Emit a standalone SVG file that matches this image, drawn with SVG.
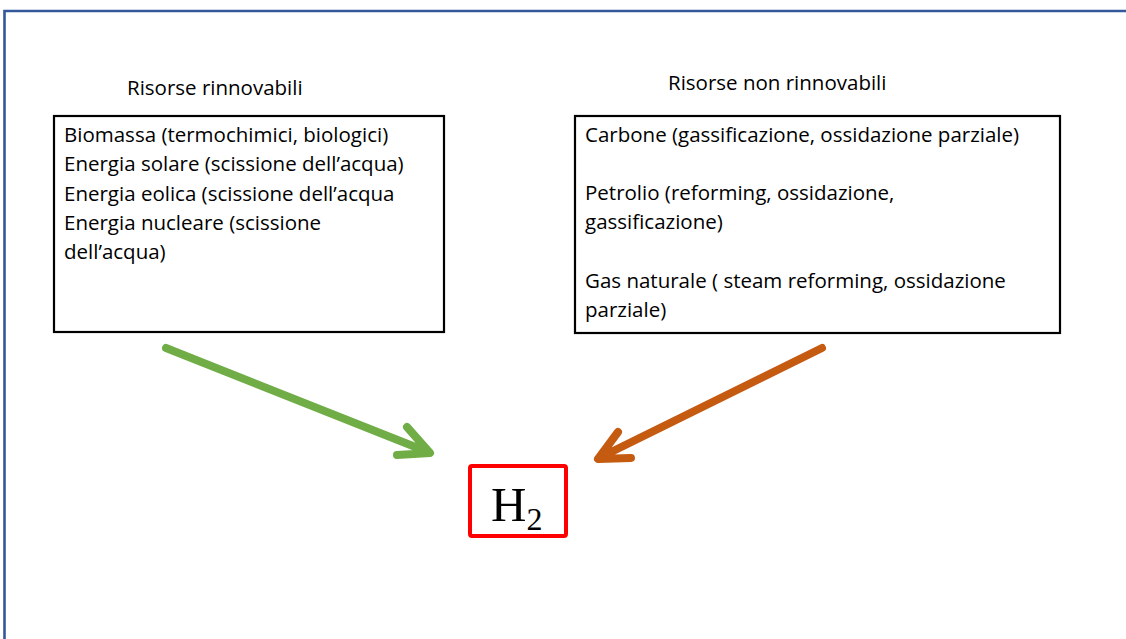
<svg xmlns="http://www.w3.org/2000/svg" width="1126" height="639" viewBox="0 0 1126 639">
<style>
.t{font-family:"Open Sans","Noto Sans",sans-serif;font-size:20.5px;fill:#000}
.box{fill:#fff;stroke:#000;stroke-width:2.2}
.arr{fill:none;stroke-width:8;stroke-linecap:round;stroke-linejoin:round}
</style>
<rect width="1126" height="639" fill="#fff"/>
<g id="frame"><path d="M4.5 639 V11 H1126" fill="none" stroke="#34589a" stroke-width="2.6"/></g>
<g id="title-left"><text class="t" x="127" y="95">Risorse rinnovabili</text></g>
<g id="title-right"><text class="t" x="668" y="90">Risorse non rinnovabili</text></g>
<g id="renewable">
<rect class="box" x="54" y="116" width="390" height="216"/>
<text class="t" x="64" y="142">Biomassa (termochimici, biologici)</text>
<text class="t" x="64" y="171">Energia solare (scissione dell’acqua)</text>
<text class="t" x="64" y="201">Energia eolica (scissione dell’acqua</text>
<text class="t" x="64" y="230">Energia nucleare (scissione</text>
<text class="t" x="64" y="259">dell’acqua)</text>
</g>
<g id="nonrenewable">
<rect class="box" x="575" y="116" width="485" height="217"/>
<text class="t" x="585" y="142">Carbone (gassificazione, ossidazione parziale)</text>
<text class="t" x="585" y="200">Petrolio (reforming, ossidazione,</text>
<text class="t" x="585" y="229">gassificazione)</text>
<text class="t" x="585" y="288">Gas naturale ( steam reforming, ossidazione</text>
<text class="t" x="585" y="317">parziale)</text>
</g>
<g id="h2">
<rect x="470" y="466" width="96" height="70" rx="2" fill="#fff" stroke="#ff0000" stroke-width="4"/>
<text x="491" y="521" font-family="Liberation Serif,serif" font-size="49">H<tspan font-size="32" dy="9">2</tspan></text>
</g>
<g id="connectors">
<path class="arr" stroke="#70ad47" d="M166 348 L428 452 M407 427 L430 453 L397 455"/>
<path class="arr" stroke="#c55a11" d="M822 348 L599 458 M618 432 L598 459 L631 458"/>
</g>
</svg>
